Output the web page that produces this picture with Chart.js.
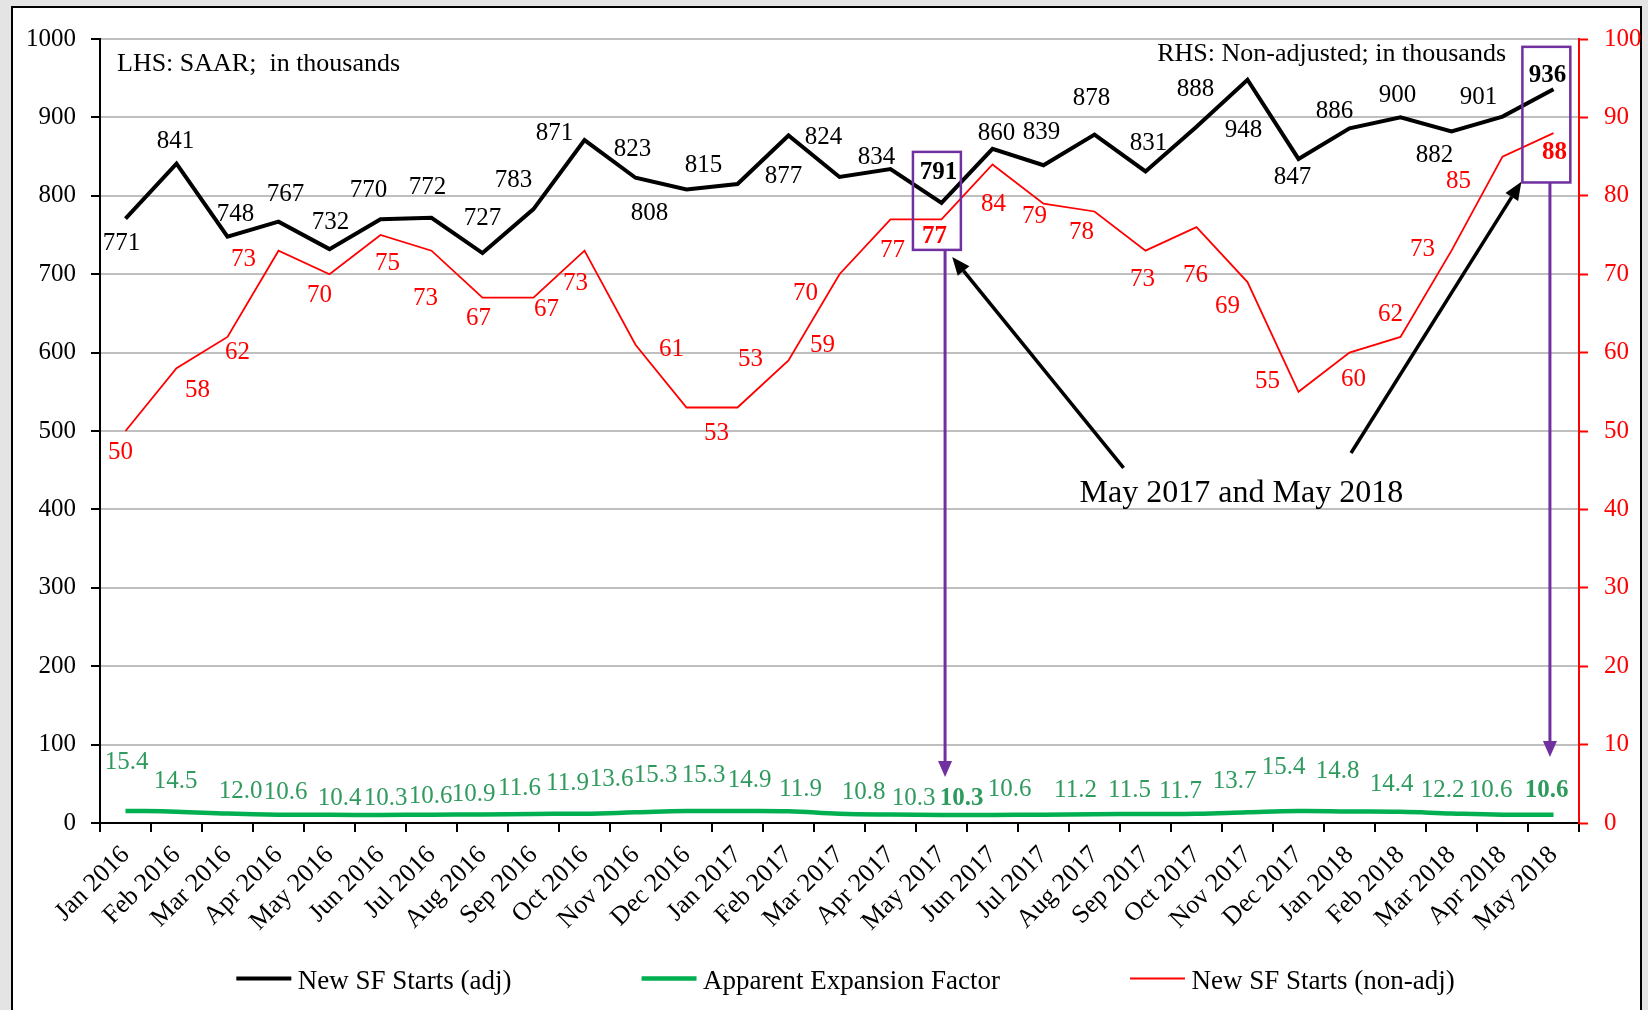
<!DOCTYPE html>
<html>
<head>
<meta charset="utf-8">
<title>New SF Starts</title>
<script src="https://cdn.jsdelivr.net/npm/chart.js@4.4.0/dist/chart.umd.min.js"></script>
<style>
  html, body { margin: 0; padding: 0; background: #e4e4e4; }
  canvas { display: block; }
</style>
</head>
<body>
<canvas id="startsChart" width="1648" height="1010"></canvas>
<script>
const months = ['Jan 2016','Feb 2016','Mar 2016','Apr 2016','May 2016','Jun 2016','Jul 2016','Aug 2016',
  'Sep 2016','Oct 2016','Nov 2016','Dec 2016','Jan 2017','Feb 2017','Mar 2017','Apr 2017','May 2017',
  'Jun 2017','Jul 2017','Aug 2017','Sep 2017','Oct 2017','Nov 2017','Dec 2017','Jan 2018','Feb 2018',
  'Mar 2018','Apr 2018','May 2018'];

// LHS, SAAR, thousands
const startsAdj = [771,841,748,767,732,770,772,727,783,871,823,808,815,877,824,834,791,
  860,839,878,831,888,948,847,886,900,882,901,936];
// RHS, non-adjusted, thousands
const startsNonAdj = [50,58,62,73,70,75,73,67,67,73,61,53,53,59,70,77,77,
  84,79,78,73,76,69,55,60,62,73,85,88];
// LHS
const expansionFactor = [15.4,14.5,12.0,10.6,10.4,10.3,10.6,10.9,11.6,11.9,13.6,15.3,15.3,14.9,11.9,10.8,10.3,
  10.3,10.6,11.2,11.5,11.7,13.7,15.4,14.8,14.4,12.2,10.6,10.6];

const seriesNames = ['New SF Starts (adj)', 'Apparent Expansion Factor', 'New SF Starts (non-adj)'];

// label nudges (px) from each point, as placed in the original
const adjLabelNudge = [[-4,25],[-1,-22],[8,-22],[7,-27],[1,-27],[-12,-29],[-4,-30],[0,-35],[-20,-29],[-30,-7],
  [-3,-28],[-37,24],[-34,-19],[-5,41],[-16,-40],[-14,-12],[-3,-30],[4,-15],[-2,-33],[-3,-36],
  [3,-28],[-1,-37],[-4,51],[-6,18],[-15,-17],[-3,-22],[-17,24],[-24,-19],[-6,-14]];
const nonAdjLabelNudge = [[-5,21],[21,22],[10,16],[-35,9],[-10,21],[7,28],[-6,48],[-4,21],[13,12],[-9,33],
  [36,5],[30,26],[13,-48],[34,-15],[-34,19],[2,31],[-7,17],[1,40],[-9,13],[-13,21],
  [-3,29],[-1,48],[-20,24],[-31,-10],[4,27],[-10,-22],[-29,-1],[-44,25],[1,19]];
const factorLabelNudge = [[1,-48],[-1,-30],[13,-22],[7,-22],[10,-16],[5,-16],[-1,-18],[-9,-20],[-14,-25],[-17,-30],
  [-24,-33],[-31,-36],[-34,-36],[-39,-31],[-39,-24],[-27,-22],[-28,-16],[-31,-16],[-34,-25],[-19,-24],
  [-16,-24],[-16,-22],[-13,-31],[-15,-43],[-12,-40],[-9,-27],[-9,-23],[-12,-24],[-7,-24]];
const adjBold = [16, 28];
const nonAdjBold = [16, 28];
const factorBold = [17, 28];

// callouts, in category index / LHS value units
const calloutBoxes = [
  { from: 15.44, to: 16.38, top: 856, bottom: 731 },
  { from: 27.39, to: 28.33, top: 990, bottom: 817 }
];
const purpleArrows = [
  { at: 16.07, from: 731, to: 58.7 },
  { at: 27.93, from: 817, to: 84.2 }
];
const pointerArrows = [
  { x1: 19.57, y1: 453, x2: 16.21, y2: 722 },
  { x1: 24.03, y1: 472, x2: 27.37, y2: 818 }
];
const calloutText = { text: 'May 2017 and May 2018', at: 21.88, value: 409 };

const FONT = '"Liberation Serif", "Times New Roman", serif';
const PURPLE = '#7030a0';
const GREEN_LINE = '#00b050';
const GREEN_TEXT = '#2f9a5e';

function arrow(ctx, x1, y1, x2, y2, color, width, headLen, headW) {
  const a = Math.atan2(y2 - y1, x2 - x1);
  const bx = x2 - headLen * Math.cos(a), by = y2 - headLen * Math.sin(a);
  ctx.strokeStyle = color;
  ctx.lineWidth = width;
  ctx.beginPath(); ctx.moveTo(x1, y1); ctx.lineTo(bx, by); ctx.stroke();
  ctx.fillStyle = color;
  ctx.beginPath();
  ctx.moveTo(x2, y2);
  ctx.lineTo(bx + headW / 2 * Math.sin(a), by - headW / 2 * Math.cos(a));
  ctx.lineTo(bx - headW / 2 * Math.sin(a), by + headW / 2 * Math.cos(a));
  ctx.closePath(); ctx.fill();
}

function drawLabels(chart, dsIndex, values, nudge, bold, color, fmt) {
  const ctx = chart.ctx;
  const meta = chart.getDatasetMeta(dsIndex);
  ctx.fillStyle = color;
  ctx.textAlign = 'center';
  ctx.textBaseline = 'middle';
  meta.data.forEach((pt, i) => {
    ctx.font = (bold.includes(i) ? 'bold ' : '') + '25px ' + FONT;
    ctx.fillText(fmt(values[i]), pt.x + nudge[i][0], pt.y + nudge[i][1]);
  });
}

const framePlugin = {
  id: 'frame',
  beforeDraw(chart) {
    const ctx = chart.ctx;
    ctx.save();
    ctx.fillStyle = '#e4e4e4';
    ctx.fillRect(0, 0, chart.width, chart.height);
    ctx.fillStyle = '#ffffff';
    ctx.fillRect(12, 7, 1629, 1020);
    ctx.strokeStyle = '#000';
    ctx.lineWidth = 2;
    ctx.strokeRect(12, 7, 1629, 1020);
    ctx.restore();
  }
};

const notesPlugin = {
  id: 'notes',
  afterDatasetsDraw(chart) {
    const ctx = chart.ctx;
    const x = chart.scales.x, y = chart.scales.y;
    const area = chart.chartArea;
    ctx.save();

    drawLabels(chart, 0, startsAdj, adjLabelNudge, adjBold, '#000', v => String(v));
    drawLabels(chart, 2, startsNonAdj, nonAdjLabelNudge, nonAdjBold, '#ff0000', v => String(v));
    drawLabels(chart, 1, expansionFactor, factorLabelNudge, factorBold, GREEN_TEXT, v => v.toFixed(1));

    ctx.font = '26px ' + FONT;
    ctx.fillStyle = '#000';
    ctx.textBaseline = 'alphabetic';
    ctx.textAlign = 'left';
    ctx.fillText('LHS: SAAR;  in thousands', area.left + 17, 71);
    ctx.textAlign = 'right';
    ctx.fillText('RHS: Non-adjusted; in thousands', area.right - 73, 61);

    calloutBoxes.forEach(b => {
      const x0 = x.getPixelForValue(b.from), x1 = x.getPixelForValue(b.to);
      const y0 = y.getPixelForValue(b.top), y1 = y.getPixelForValue(b.bottom);
      ctx.strokeStyle = PURPLE;
      ctx.lineWidth = 2.5;
      ctx.strokeRect(x0, y0, x1 - x0, y1 - y0);
    });
    purpleArrows.forEach(a => {
      const px = x.getPixelForValue(a.at);
      arrow(ctx, px, y.getPixelForValue(a.from), px, y.getPixelForValue(a.to), PURPLE, 3, 16, 14);
    });
    pointerArrows.forEach(a => {
      arrow(ctx, x.getPixelForValue(a.x1), y.getPixelForValue(a.y1),
        x.getPixelForValue(a.x2), y.getPixelForValue(a.y2), '#000', 3.5, 18, 15);
    });

    ctx.font = '32px ' + FONT;
    ctx.fillStyle = '#000';
    ctx.textAlign = 'center';
    ctx.fillText(calloutText.text, x.getPixelForValue(calloutText.at), y.getPixelForValue(calloutText.value));
    ctx.restore();
  },
  afterDraw(chart) {
    // legend
    const ctx = chart.ctx;
    const area = chart.chartArea;
    ctx.save();
    ctx.font = '27px ' + FONT;
    const sample = 55, textGap = 6.5, itemGap = 130;
    const items = chart.data.datasets.map(ds => ({ ds, w: ctx.measureText(ds.label).width }));
    const total = items.reduce((s, it) => s + sample + textGap + it.w, 0) + itemGap * (items.length - 1);
    let cx = (area.left + area.right) / 2 + 6 - total / 2;
    const ly = 978.5;
    items.forEach(it => {
      ctx.strokeStyle = it.ds.borderColor;
      ctx.lineWidth = it.ds.borderWidth;
      ctx.beginPath(); ctx.moveTo(cx, ly); ctx.lineTo(cx + sample, ly); ctx.stroke();
      ctx.fillStyle = '#000';
      ctx.textAlign = 'left';
      ctx.textBaseline = 'alphabetic';
      ctx.fillText(it.ds.label, cx + sample + textGap, ly + 10.5);
      cx += sample + textGap + it.w + itemGap;
    });
    ctx.restore();
  }
};

new Chart(document.getElementById('startsChart').getContext('2d'), {
  type: 'line',
  data: {
    labels: months,
    datasets: [
      {
        label: seriesNames[0],
        data: startsAdj,
        yAxisID: 'y',
        borderColor: '#000000',
        borderWidth: 4,
        pointRadius: 0,
        tension: 0
      },
      {
        label: seriesNames[1],
        data: expansionFactor,
        yAxisID: 'y',
        borderColor: GREEN_LINE,
        borderWidth: 4.5,
        pointRadius: 0,
        tension: 0.4
      },
      {
        label: seriesNames[2],
        data: startsNonAdj,
        yAxisID: 'y2',
        borderColor: '#ff0000',
        borderWidth: 1.8,
        pointRadius: 0,
        tension: 0
      }
    ]
  },
  options: {
    responsive: false,
    animation: false,
    devicePixelRatio: 1,
    layout: { padding: { top: 39, left: 0, right: 0, bottom: 0 } },
    plugins: {
      legend: { display: false },
      tooltip: { enabled: false }
    },
    scales: {
      x: {
        offset: true,
        grid: {
          display: true,
          offset: true,
          drawOnChartArea: false,
          color: '#000',
          tickLength: 9,
          lineWidth: 2
        },
        border: { color: '#000', width: 2 },
        ticks: {
          color: '#000',
          font: { family: FONT, size: 26 },
          minRotation: 45,
          maxRotation: 45,
          autoSkip: false,
          padding: 8,
          labelOffset: 0
        },
        afterFit: s => { s.height = 187; }
      },
      y: {
        position: 'left',
        min: 0,
        max: 1000,
        ticks: {
          stepSize: 100,
          color: '#000',
          padding: 15,
          font: { family: FONT, size: 25 },
          callback: v => String(v)
        },
        grid: {
          color: c => (c.tick && c.tick.value === 0 ? '#000' : '#bfbfbf'),
          lineWidth: 2,
          tickColor: '#000',
          tickLength: 9,
          tickWidth: 2
        },
        border: { color: '#000', width: 2 },
        afterFit: s => { s.width = 100; }
      },
      y2: {
        position: 'right',
        min: 0,
        max: 100,
        ticks: {
          stepSize: 10,
          color: '#ff0000',
          padding: 16,
          font: { family: FONT, size: 25 },
          callback: v => String(v)
        },
        grid: {
          drawOnChartArea: false,
          tickColor: '#ff0000',
          tickLength: 9,
          tickWidth: 2
        },
        border: { color: '#ff0000', width: 2 },
        afterFit: s => { s.width = 69; }
      }
    }
  },
  plugins: [framePlugin, notesPlugin]
});
</script>
</body>
</html>
